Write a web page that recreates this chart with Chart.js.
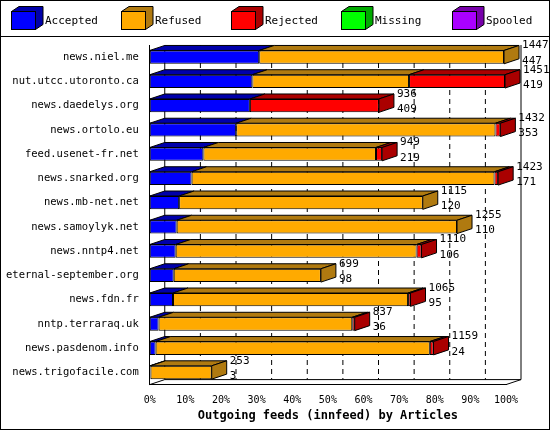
<!DOCTYPE html>
<html>
<head>
<script src="https://cdn.jsdelivr.net/npm/chart.js@4"></script>
<style>
  body { margin: 0; background: #fff; }
  #wrap { width: 548px; height: 428px; border: 1px solid #000; }
</style>
</head>
<body>
<div id="wrap"><canvas id="c" width="548" height="428"></canvas></div>
<script>
const hosts = ["news.niel.me", "nut.utcc.utoronto.ca", "news.daedelys.org", "news.ortolo.eu",
  "feed.usenet-fr.net", "news.snarked.org", "news.mb-net.net", "news.samoylyk.net",
  "news.nntp4.net", "eternal-september.org", "news.fdn.fr", "nntp.terraraq.uk",
  "news.pasdenom.info", "news.trigofacile.com"];
const totals   = [1447, 1451, 936, 1432, 949, 1423, 1115, 1255, 1110, 699, 1065, 837, 1159, 253];
const accepted = [447, 419, 409, 353, 219, 171, 120, 110, 106, 98, 95, 36, 24, 3];
const rejected = [0, 392, 527, 20, 25, 15, 0, 0, 20, 0, 10, 10, 15, 0];
const missing  = [0, 0, 0, 0, 0, 0, 0, 0, 0, 0, 0, 0, 0, 0];
const spooled  = [0, 0, 0, 0, 0, 0, 0, 0, 0, 0, 0, 0, 0, 0];
const refused  = totals.map((t, i) => t - accepted[i] - rejected[i] - missing[i] - spooled[i]);
const scaleMax = 1455;

const pct = arr => arr.map(v => v / scaleMax * 100);
const front = ['#0000ff', '#ffaa00', '#ff0000', '#00ff00', '#aa00ff'];
const shade = ['#0000aa', '#b07a10', '#aa0000', '#00aa00', '#7700aa'];
const names = ['Accepted', 'Refused', 'Rejected', 'Missing', 'Spooled'];
const series = [accepted, refused, rejected, missing, spooled];

const DX = 15, DY = 5;
const FONT = '11px "DejaVu Sans Mono"';

function box3d(ctx, x, y, w, h, d) {
  ctx.fillStyle = shade[d];
  ctx.beginPath();
  ctx.moveTo(x, y); ctx.lineTo(x + DX * 0.5, y - DY); ctx.lineTo(x + w + DX * 0.5, y - DY);
  ctx.lineTo(x + w + DX * 0.5, y + h - DY); ctx.lineTo(x + w, y + h); ctx.lineTo(x + w, y);
  ctx.closePath(); ctx.fill(); ctx.stroke();
  ctx.fillStyle = front[d];
  ctx.fillRect(x, y, w, h); ctx.strokeRect(x, y, w, h);
}

const depth = {
  id: 'depth',
  beforeDatasetsDraw(chart) {
    const ctx = chart.ctx, a = chart.chartArea, xs = chart.scales.x;
    ctx.save();
    ctx.strokeStyle = '#000';
    ctx.lineWidth = 1;
    ctx.beginPath();
    ctx.moveTo(a.left + DX, a.top); ctx.lineTo(a.left + DX, a.bottom - DY);
    ctx.moveTo(a.left + DX, a.bottom - DY); ctx.lineTo(a.right + DX, a.bottom - DY);
    ctx.moveTo(a.right + DX, a.top); ctx.lineTo(a.right + DX, a.bottom - DY);
    ctx.moveTo(a.left, a.bottom); ctx.lineTo(a.left + DX, a.bottom - DY);
    ctx.moveTo(a.right, a.bottom); ctx.lineTo(a.right + DX, a.bottom - DY);
    ctx.stroke();
    ctx.setLineDash([5, 4]);
    for (let p = 10; p < 100; p += 10) {
      const x = xs.getPixelForValue(p) + DX;
      ctx.beginPath(); ctx.moveTo(x, a.top); ctx.lineTo(x, a.bottom - DY); ctx.stroke();
    }
    ctx.restore();
  },
  afterDatasetsDraw(chart) {
    const ctx = chart.ctx;
    ctx.save();
    ctx.lineWidth = 1;
    ctx.strokeStyle = '#000';
    hosts.forEach((h, i) => {
      let last = null;
      chart.data.datasets.forEach((ds, d) => {
        const el = chart.getDatasetMeta(d).data[i];
        if (!ds.data[i]) return;
        const x0 = Math.min(el.x, el.base), x1 = Math.max(el.x, el.base);
        const top = el.y - el.height / 2;
        ctx.fillStyle = shade[d];
        ctx.beginPath();
        ctx.moveTo(x0, top); ctx.lineTo(x0 + DX, top - DY);
        ctx.lineTo(x1 + DX, top - DY); ctx.lineTo(x1, top); ctx.closePath();
        ctx.fill(); ctx.stroke();
        last = { d, x1, top, bot: el.y + el.height / 2 };
      });
      if (last) {
        ctx.fillStyle = shade[last.d];
        ctx.beginPath();
        ctx.moveTo(last.x1, last.top); ctx.lineTo(last.x1 + DX, last.top - DY);
        ctx.lineTo(last.x1 + DX, last.bot - DY); ctx.lineTo(last.x1, last.bot); ctx.closePath();
        ctx.fill(); ctx.stroke();
        ctx.fillStyle = '#000';
        ctx.font = FONT;
        ctx.textBaseline = 'middle';
        ctx.fillText(String(totals[i]), last.x1 + DX + 3, last.top - 5);
        ctx.fillText(String(accepted[i]), last.x1 + DX + 3, last.bot - 3);
      }
    });
    ctx.restore();
  },
  afterDraw(chart) {
    const ctx = chart.ctx;
    ctx.save();
    ctx.strokeStyle = '#000';
    ctx.lineWidth = 1;
    ctx.beginPath(); ctx.moveTo(0, 35.5); ctx.lineTo(548, 35.5); ctx.stroke();
    const lx = [10, 120, 230, 340, 451];
    ctx.font = FONT;
    ctx.textBaseline = 'middle';
    names.forEach((n, d) => {
      box3d(ctx, lx[d] + 0.5, 10.5, 24, 18, d);
      ctx.fillStyle = '#000';
      ctx.fillText(n, lx[d] + 34, 20);
    });
    ctx.restore();
  }
};

new Chart(document.getElementById('c'), {
  type: 'bar',
  data: {
    labels: hosts,
    datasets: series.map((s, d) => ({
      label: names[d], data: pct(s), backgroundColor: front[d],
      borderColor: '#000', borderWidth: 1, borderSkipped: false,
      barPercentage: 0.55, categoryPercentage: 1
    }))
  },
  options: {
    indexAxis: 'y',
    responsive: false,
    animation: false,
    layout: { padding: { top: 44, right: 43, left: 2, bottom: 6 } },
    plugins: {
      legend: { display: false },
      tooltip: { enabled: false }
    },
    scales: {
      x: {
        stacked: true, min: 0, max: 100,
        grid: { display: false },
        border: { display: true, color: '#000' },
        ticks: { stepSize: 10, callback: v => v + '%', color: '#000',
          font: { family: 'DejaVu Sans Mono', size: 10 }, maxRotation: 0, padding: 2 },
        title: { display: true, text: 'Outgoing feeds (innfeed) by Articles', color: '#000',
          font: { family: 'DejaVu Sans Mono', size: 12, weight: 'bold' }, padding: 0 }
      },
      y: {
        stacked: true,
        grid: { display: false },
        border: { display: true, color: '#000' },
        ticks: { color: '#000', font: { family: 'DejaVu Sans Mono', size: 10.5 } }
      }
    }
  },
  plugins: [depth]
});
</script>
</body>
</html>
